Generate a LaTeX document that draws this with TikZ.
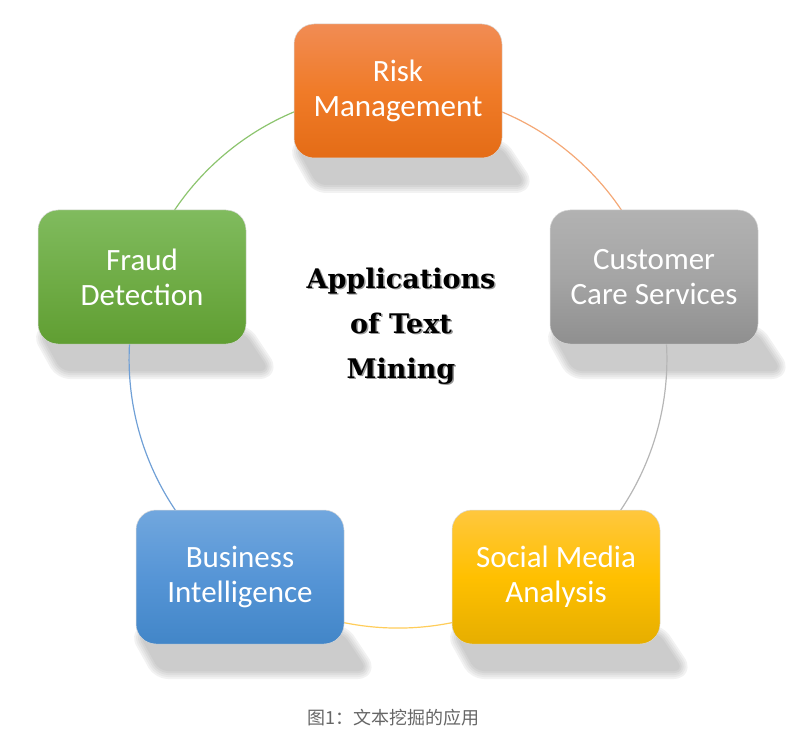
\documentclass[tikz,border=0pt]{standalone}
\usepackage{fontspec}
\setmainfont{Carlito}
\newfontfamily\titlefont{DejaVu Serif}
\newfontfamily\cjkfont{Noto Sans CJK SC}
\usetikzlibrary{calc}
\pgfdeclarelayer{shadowlayer}
\pgfdeclarelayer{arclayer}
\pgfsetlayers{shadowlayer,arclayer,main}

\definecolor{orT}{RGB}{241,140,84}
\definecolor{orM}{RGB}{240,123,40}
\definecolor{orB}{RGB}{228,108,22}
\definecolor{grT}{RGB}{178,178,178}
\definecolor{grM}{RGB}{165,165,165}
\definecolor{grB}{RGB}{143,143,143}
\definecolor{gnT}{RGB}{128,187,94}
\definecolor{gnM}{RGB}{112,173,71}
\definecolor{gnB}{RGB}{96,158,50}
\definecolor{blT}{RGB}{113,167,222}
\definecolor{blM}{RGB}{86,149,214}
\definecolor{blB}{RGB}{66,134,200}
\definecolor{ylT}{RGB}{255,199,62}
\definecolor{ylM}{RGB}{255,192,0}
\definecolor{ylB}{RGB}{230,174,0}
\definecolor{orArc}{RGB}{244,168,118}
\definecolor{grArc}{RGB}{182,182,182}
\definecolor{ylArc}{RGB}{255,205,90}
\definecolor{blArc}{RGB}{112,160,214}
\definecolor{gnArc}{RGB}{140,196,110}
\definecolor{capgray}{RGB}{102,102,102}

\tikzset{
  appbox/.style={rounded corners=20pt, minimum width=208pt, minimum height=134pt,
    inner sep=0pt, outer sep=0pt, align=center, text=white,
    font=\fontsize{31}{35}\selectfont, draw=white!70!gray, line width=0.5pt},
  arcline/.style={line width=1.2pt},
  arcbend/.style={bend left=36, looseness=0.94},
  titletext/.style={font=\titlefont\bfseries\fontsize{27}{45}\selectfont, align=center, inner sep=0pt},
  shadowpart/.style={line join=round, rounded corners=8pt},
}

\newcommand\castshadow[1]{%
  \begin{pgfonlayer}{shadowlayer}
  \foreach \w/\c in {18/5,14/9,10/13,6/17,2/20}{%
    \filldraw[shadowpart, fill=black!\c, draw=black!\c, line width=\w pt]
      ($(#1.south west)+(4,10)$) -- ($(#1.south east)+(-2,10)$) --
      ($(#1.south east)+(22,-26)$) -- ($(#1.south west)+(24,-26)$) -- cycle;
  }%
  \end{pgfonlayer}}

\begin{document}
\begin{tikzpicture}[x=1pt,y=1pt]
\useasboundingbox (0,0) rectangle (810,732);

\node[appbox, top color=orT, bottom color=orB, middle color=orM] (risk) at (398,641) {Risk\\Management};
\node[appbox, top color=grT, bottom color=grB, middle color=grM] (cust) at (654,455) {Customer\\Care Services};
\node[appbox, top color=ylT, bottom color=ylB, middle color=ylM] (social) at (556,155) {Social Media\\Analysis};
\node[appbox, top color=blT, bottom color=blB, middle color=blM] (bi) at (240,155) {Business\\Intelligence};
\node[appbox, top color=gnT, bottom color=gnB, middle color=gnM] (fraud) at (142,455) {Fraud\\Detection};

\castshadow{risk}
\castshadow{cust}
\castshadow{social}
\castshadow{bi}
\castshadow{fraud}

\begin{pgfonlayer}{arclayer}
\draw[arcline, orArc] (risk.center) to[arcbend] (cust.center);
\draw[arcline, grArc] (cust.center) to[arcbend] (social.center);
\draw[arcline, ylArc] (social.center) to[arcbend] (bi.center);
\draw[arcline, blArc] (bi.center) to[arcbend] (fraud.center);
\draw[arcline, gnArc] (fraud.center) to[arcbend] (risk.center);
\end{pgfonlayer}

\node[titletext, text=black!40] (titleshadow) at (402.5,404.5) {Applications\\of Text\\Mining};
\node[titletext, text=black] (title) at (401,406) {Applications\\of Text\\Mining};

\node[font=\cjkfont\fontsize{18}{20}\selectfont, text=capgray] (caption) at (393,14) {图1：文本挖掘的应用};
\end{tikzpicture}
\end{document}
